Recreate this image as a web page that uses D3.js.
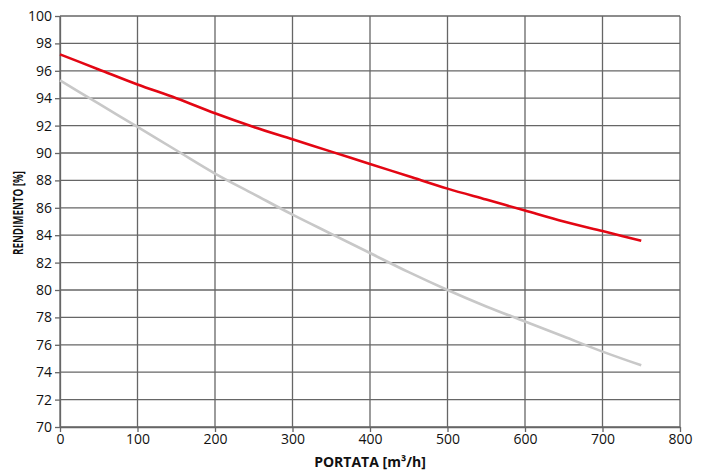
<!DOCTYPE html>
<html>
<head>
<meta charset="utf-8">
<script src="https://cdn.jsdelivr.net/npm/d3@7"></script>
<style>
  body { margin: 0; background: #fff; }
  text { font-family: "Open Sans", "DejaVu Sans", sans-serif; }
</style>
</head>
<body>
<script>
const w = 707;
const h = 473;
const margin = { left: 60, right: 27, top: 16, bottom: 46 };

// data
const portata = [0, 50, 100, 150, 200, 250, 300, 350, 400, 450, 500, 550, 600, 650, 700, 750];
const rendRed = [97.2, 96.1, 95.0, 94.0, 92.9, 91.9, 91.0, 90.1, 89.2, 88.3, 87.4, 86.6, 85.8, 85.0, 84.3, 83.6];
const rendGray = [95.3, 93.6, 91.9, 90.2, 88.5, 87.0, 85.5, 84.1, 82.7, 81.3, 80.0, 78.8, 77.7, 76.6, 75.5, 74.5];
const xTicks = [0, 100, 200, 300, 400, 500, 600, 700, 800];
const yTicks = [70, 72, 74, 76, 78, 80, 82, 84, 86, 88, 90, 92, 94, 96, 98, 100];

const svg = d3.select("body").append("svg")
  .attr("width", w)
  .attr("height", h);

const xScale = d3.scaleLinear().domain([0, 800]).range([margin.left, w - margin.right]);
const yScale = d3.scaleLinear().domain([70, 100]).range([h - margin.bottom, margin.top]);

const gridColor = "#666";

// grid
svg.append("g")
  .selectAll("line")
  .data(xTicks)
  .enter()
  .append("line")
  .attr("x1", (d) => xScale(d))
  .attr("x2", (d) => xScale(d))
  .attr("y1", yScale(70))
  .attr("y2", yScale(100))
  .attr("stroke", gridColor)
  .attr("stroke-width", 1.3);

svg.append("g")
  .selectAll("line")
  .data(yTicks)
  .enter()
  .append("line")
  .attr("x1", xScale(0))
  .attr("x2", xScale(800))
  .attr("y1", (d) => yScale(d))
  .attr("y2", (d) => yScale(d))
  .attr("stroke", gridColor)
  .attr("stroke-width", 1.3);

// axes
const xAxis = d3.axisBottom(xScale).tickValues(xTicks).tickSize(5).tickSizeOuter(0).tickPadding(2);
const yAxis = d3.axisLeft(yScale).tickValues(yTicks).tickSize(5).tickSizeOuter(0).tickPadding(3);

const gx = svg.append("g")
  .attr("transform", "translate(0," + yScale(70) + ")")
  .call(xAxis);
const gy = svg.append("g")
  .attr("transform", "translate(" + xScale(0) + ",0)")
  .call(yAxis);

[gx, gy].forEach((g) => {
  g.select(".domain").attr("stroke", gridColor).attr("stroke-width", 1.3);
  g.selectAll(".tick line").attr("stroke", gridColor).attr("stroke-width", 1.3);
  g.selectAll(".tick text").attr("fill", "#111").style("font-size", "14px");
});

// lines
const line = d3.line()
  .x((d, i) => xScale(portata[i]))
  .y((d) => yScale(d))
  .curve(d3.curveMonotoneX);

svg.append("path")
  .datum(rendGray)
  .attr("d", line)
  .attr("fill", "none")
  .attr("stroke", "#c8c8c8")
  .attr("stroke-width", 2.6);

svg.append("path")
  .datum(rendRed)
  .attr("d", line)
  .attr("fill", "none")
  .attr("stroke", "#e30613")
  .attr("stroke-width", 2.6);

// axis titles
svg.append("text")
  .attr("x", (xScale(0) + xScale(800)) / 2)
  .attr("y", 467)
  .attr("text-anchor", "middle")
  .style("font-size", "14px")
  .style("font-weight", "bold")
  .attr("fill", "#111")
  .text("PORTATA [m³/h]");

// vertical title is squeezed in the original
svg.append("text")
  .attr("transform", "translate(23,213) rotate(-90)")
  .attr("x", -42)
  .attr("textLength", 84)
  .attr("lengthAdjust", "spacingAndGlyphs")
  .style("font-size", "13.5px")
  .style("font-weight", "bold")
  .attr("fill", "#111")
  .text("RENDIMENTO [%]");
</script>
</body>
</html>
